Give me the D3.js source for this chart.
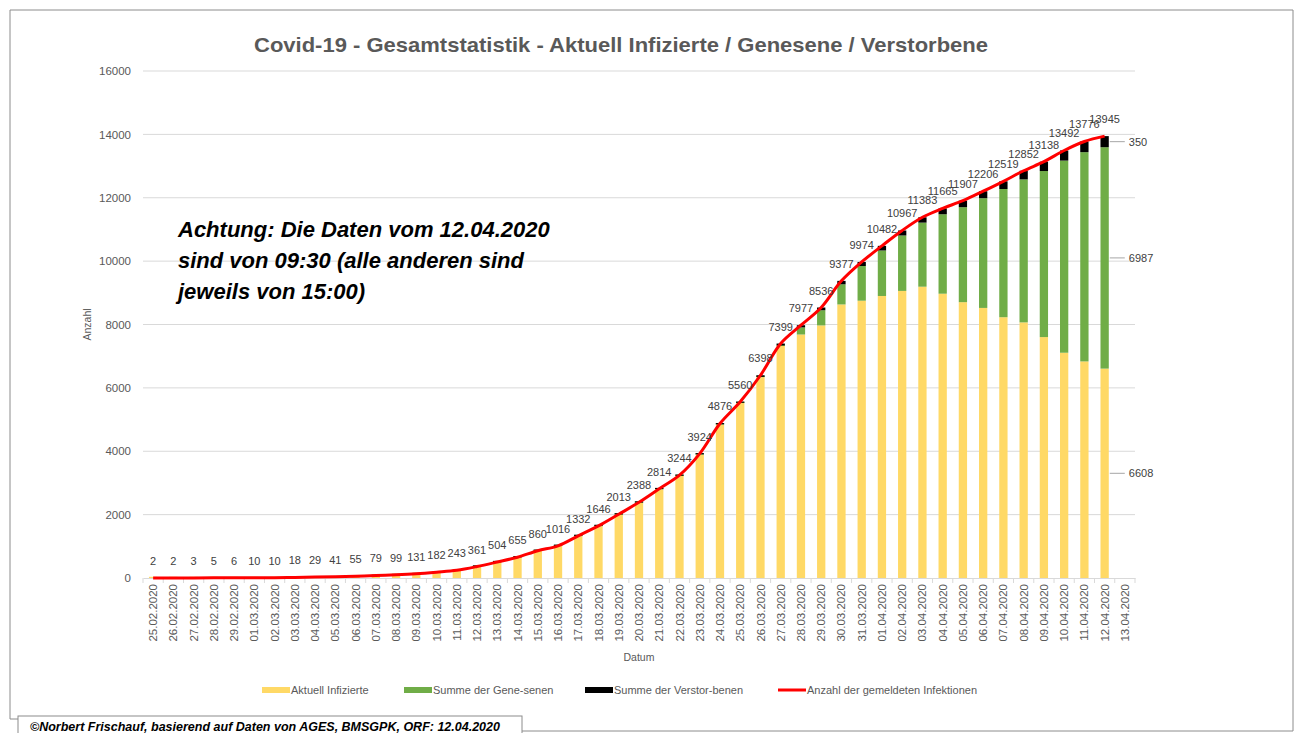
<!DOCTYPE html>
<html>
<head>
<meta charset="utf-8">
<script src="https://cdn.jsdelivr.net/npm/d3@7"></script>
<style>
  body { margin: 0; background: #fff; }
  svg text { font-family: "Liberation Sans", Arial, sans-serif; }
</style>
</head>
<body>
<svg id="chart" width="1295" height="733"></svg>
<script>
// categories (one per day)
const dates = [
  '25.02.2020', '26.02.2020', '27.02.2020', '28.02.2020', '29.02.2020',
  '01.03.2020', '02.03.2020', '03.03.2020', '04.03.2020', '05.03.2020', '06.03.2020', '07.03.2020',
  '08.03.2020', '09.03.2020', '10.03.2020', '11.03.2020', '12.03.2020', '13.03.2020', '14.03.2020',
  '15.03.2020', '16.03.2020', '17.03.2020', '18.03.2020', '19.03.2020', '20.03.2020', '21.03.2020',
  '22.03.2020', '23.03.2020', '24.03.2020', '25.03.2020', '26.03.2020', '27.03.2020', '28.03.2020',
  '29.03.2020', '30.03.2020', '31.03.2020', '01.04.2020', '02.04.2020', '03.04.2020', '04.04.2020',
  '05.04.2020', '06.04.2020', '07.04.2020', '08.04.2020', '09.04.2020', '10.04.2020', '11.04.2020',
  '12.04.2020', '13.04.2020'
];

// series values (25.02. - 12.04., 13.04. is empty)
const active = [
  2, 2, 3, 5, 6,
  10, 10, 18, 29, 41, 53, 77, 97, 129, 178, 239, 356, 497, 648, 853, 1009, 1320, 1634, 1998, 2373,
  2797, 3219, 3894, 4842, 5521, 6340, 7321, 7684, 7971, 8633, 8751,
  8900, 9060, 9193, 8972, 8705, 8523, 8230, 8067, 7603, 7109, 6835, 6608
];
const recovered = [
  0, 0, 0, 0, 0,
  0, 0, 0, 0, 0, 2, 2, 2, 2, 4, 4, 4, 6, 6, 6, 6, 9, 9, 9, 9,
  9, 9, 9, 9, 9, 9, 20, 225, 479, 636, 1095,
  1436, 1749, 2022, 2507, 2998, 3463, 4046, 4512, 5240, 6064, 6604, 6987
];
const deaths = [
  0, 0, 0, 0, 0,
  0, 0, 0, 0, 0, 0, 0, 0, 0, 0, 0, 1, 1, 1, 1, 1, 3, 3, 6, 6,
  8, 16, 21, 25, 30, 49, 58, 68, 86, 108, 128,
  146, 158, 168, 186, 204, 220, 243, 273, 295, 319, 337, 350
];
const totals = [
  2, 2, 3, 5, 6,
  10, 10, 18, 29, 41, 55, 79, 99, 131, 182, 243, 361, 504, 655, 860, 1016, 1332, 1646, 2013, 2388,
  2814, 3244, 3924, 4876, 5560, 6398, 7399, 7977, 8536, 9377, 9974,
  10482, 10967, 11383, 11665, 11907, 12206, 12519, 12852, 13138, 13492, 13776, 13945
];

const yTicks = [0, 2000, 4000, 6000, 8000, 10000, 12000, 14000, 16000];
const seriesKeys = ['active', 'recovered', 'deaths'];
const seriesNames = ['Aktuell Infizierte', 'Summe der Gene-senen', 'Summe der Verstor-benen', 'Anzahl der gemeldeten Infektionen'];
const colors = ['#ffd966', '#70ad47', '#000000', '#ff0000'];

const titleText = 'Covid-19 - Gesamtstatistik - Aktuell Infizierte / Genesene / Verstorbene';
const noteLines = ['Achtung: Die Daten vom 12.04.2020', 'sind von 09:30 (alle anderen sind', 'jeweils von 15:00)'];
const footerText = '©Norbert Frischauf, basierend auf Daten von AGES, BMSGPK, ORF: 12.04.2020';

const svg = d3.select('#chart');
const plot = { left: 143, right: 1135, top: 71, bottom: 578 };

const x = d3.scaleBand().domain(dates).range([plot.left, plot.right]);
const y = d3.scaleLinear().domain([0, 16000]).range([plot.bottom, plot.top]);
const barW = x.bandwidth() * 0.41;
const cx = (d) => x(d) + x.bandwidth() / 2;

// outer frame
svg.append('path')
  .attr('d', 'M18,719 H10 V10 H1293 V731 H522')
  .attr('fill', 'none')
  .attr('stroke', '#8c8c8c')
  .attr('stroke-width', 1);

// title
svg.append('text')
  .attr('x', 254).attr('y', 52)
  .attr('font-size', 21)
  .attr('font-weight', 'bold')
  .attr('fill', '#595959')
  .attr('textLength', 734)
  .attr('lengthAdjust', 'spacingAndGlyphs')
  .text(titleText);

// grid
svg.append('g').selectAll('line')
  .data(yTicks.slice(1))
  .join('line')
  .attr('x1', plot.left).attr('x2', plot.right)
  .attr('y1', (d) => y(d)).attr('y2', (d) => y(d))
  .attr('stroke', '#d9d9d9');

// y axis labels
svg.append('g')
  .attr('transform', 'translate(' + plot.left + ',0)')
  .call(d3.axisLeft(y).tickValues(yTicks).tickFormat(d3.format('d')).tickSize(0).tickPadding(12))
  .call((g) => g.select('.domain').remove())
  .selectAll('text')
  .attr('font-size', 11.5)
  .attr('fill', '#595959')
  .style('font-family', 'inherit');

// x axis
const xAxis = svg.append('g')
  .attr('transform', 'translate(0,' + plot.bottom + ')')
  .call(d3.axisBottom(x).tickSize(0));
xAxis.select('.domain').attr('stroke', '#d9d9d9');
xAxis.selectAll('text')
  .attr('transform', 'rotate(-90)')
  .attr('x', -6).attr('y', 0).attr('dy', '0.35em')
  .attr('text-anchor', 'end')
  .attr('font-size', 11.5)
  .attr('fill', '#595959')
  .style('font-family', 'inherit');
// tick marks between categories
xAxis.append('g').selectAll('line')
  .data(dates.concat([null]))
  .join('line')
  .attr('x1', (d) => (d ? x(d) : plot.right)).attr('x2', (d) => (d ? x(d) : plot.right))
  .attr('y1', 0).attr('y2', 5)
  .attr('stroke', '#d9d9d9');

// axis titles
svg.append('text')
  .attr('transform', 'translate(91,' + ((plot.top + plot.bottom) / 2) + ') rotate(-90)')
  .attr('text-anchor', 'middle')
  .attr('font-size', 10.5)
  .attr('fill', '#595959')
  .text('Anzahl');
svg.append('text')
  .attr('x', (plot.left + plot.right) / 2).attr('y', 661)
  .attr('text-anchor', 'middle')
  .attr('font-size', 10.5)
  .attr('fill', '#595959')
  .text('Datum');

// stacked bars
const rows = totals.map((t, i) => ({
  date: dates[i], active: active[i], recovered: recovered[i], deaths: deaths[i], total: t
}));
const stacked = d3.stack().keys(seriesKeys)(rows);

svg.append('g').selectAll('g')
  .data(stacked)
  .join('g')
  .attr('fill', (d, i) => colors[i])
  .selectAll('rect')
  .data((d) => d)
  .join('rect')
  .attr('x', (d) => cx(d.data.date) - barW / 2)
  .attr('width', barW)
  .attr('y', (d) => {
    const h = y(d[0]) - y(d[1]);
    return d[1] > d[0] ? y(d[0]) - Math.max(h, 1.2) : y(d[1]);
  })
  .attr('height', (d) => (d[1] > d[0] ? Math.max(y(d[0]) - y(d[1]), 1.2) : 0));

// total line
const line = d3.line()
  .x((d) => cx(d.date))
  .y((d) => y(d.total))
  .curve(d3.curveCatmullRom.alpha(0.5));

svg.append('path')
  .datum(rows)
  .attr('fill', 'none')
  .attr('stroke', colors[3])
  .attr('stroke-width', 3)
  .attr('stroke-linejoin', 'round')
  .attr('d', line);

// line labels
svg.append('g').selectAll('text')
  .data(rows)
  .join('text')
  .attr('x', (d) => cx(d.date))
  .attr('y', (d) => y(d.total) - 13)
  .attr('text-anchor', 'middle')
  .attr('font-size', 11)
  .attr('fill', '#404040')
  .text((d) => d.total);

// segment labels on the last bar
const last = rows.length - 1;
const lastSegs = stacked.map((s) => s[last]);
const lastX = cx(rows[last].date) + barW / 2;
const segLabels = svg.append('g');
segLabels.selectAll('line')
  .data(lastSegs)
  .join('line')
  .attr('x1', lastX + 1).attr('x2', lastX + 16)
  .attr('y1', (d) => y((d[0] + d[1]) / 2)).attr('y2', (d) => y((d[0] + d[1]) / 2))
  .attr('stroke', '#a6a6a6');
segLabels.selectAll('text')
  .data(lastSegs)
  .join('text')
  .attr('x', lastX + 20)
  .attr('y', (d) => y((d[0] + d[1]) / 2))
  .attr('dy', '0.35em')
  .attr('font-size', 11)
  .attr('fill', '#404040')
  .text((d) => d[1] - d[0]);

// note
svg.append('g').selectAll('text')
  .data(noteLines)
  .join('text')
  .attr('x', 178)
  .attr('y', (d, i) => 237 + i * 31)
  .attr('font-size', 22)
  .attr('font-weight', 'bold')
  .attr('font-style', 'italic')
  .attr('fill', '#000')
  .text((d) => d);

// legend
const legendX = [262, 404, 585, 778];
const legend = svg.append('g').selectAll('g')
  .data(seriesNames)
  .join('g')
  .attr('transform', (d, i) => 'translate(' + legendX[i] + ',690)');
legend.filter((d, i) => i < 3).append('rect')
  .attr('x', 0).attr('y', -3).attr('width', 28).attr('height', 6)
  .attr('fill', (d, i) => colors[i]);
legend.filter((d, i) => i === 3).append('line')
  .attr('x1', 0).attr('x2', 28).attr('y1', 0).attr('y2', 0)
  .attr('stroke', colors[3]).attr('stroke-width', 3);
legend.append('text')
  .attr('x', 29).attr('dy', '0.35em')
  .attr('font-size', 11)
  .attr('fill', '#595959')
  .text((d) => d);

// footer box
svg.append('rect')
  .attr('x', 18).attr('y', 716).attr('width', 504).attr('height', 30)
  .attr('fill', '#fff')
  .attr('stroke', '#8c8c8c');
svg.append('text')
  .attr('x', 30).attr('y', 731)
  .attr('font-size', 12.5)
  .attr('font-weight', 'bold')
  .attr('font-style', 'italic')
  .attr('fill', '#000')
  .text(footerText);
</script>
</body>
</html>
